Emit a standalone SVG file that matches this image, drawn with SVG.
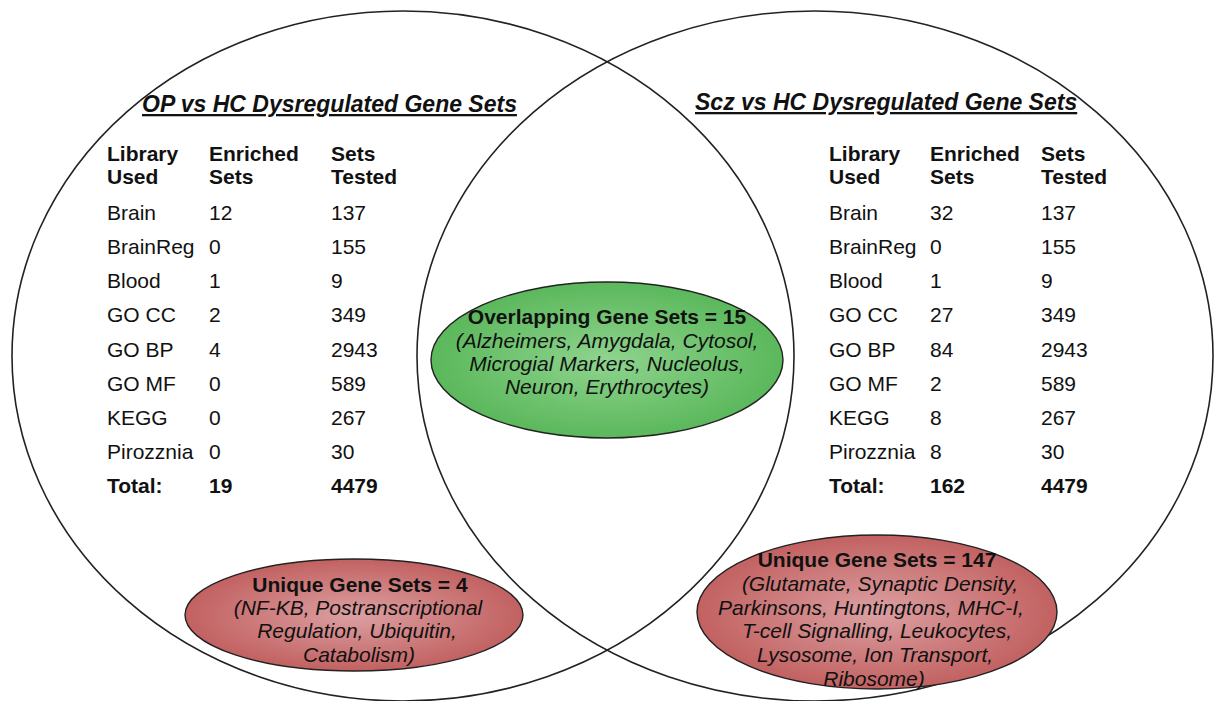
<svg xmlns="http://www.w3.org/2000/svg" width="1214" height="701" viewBox="0 0 1214 701">
<defs>
<radialGradient id="gGreen" cx="50%" cy="50%" r="50%">
<stop offset="0" stop-color="#8fd48f"/>
<stop offset="1" stop-color="#5bb85b"/>
</radialGradient>
<radialGradient id="gRed" cx="50%" cy="50%" r="50%">
<stop offset="0" stop-color="#dca0a2"/>
<stop offset="1" stop-color="#c26161"/>
</radialGradient>
<style>
.circ{fill:none;stroke:#222;stroke-width:1.6}
.bub{stroke:#222;stroke-width:1.4}
text{font-family:"Liberation Sans",Arial,sans-serif;fill:#111;font-size:21px}
.b{font-weight:bold}
.i{font-style:italic}
.ttl{font-weight:bold;font-style:italic;font-size:23px;text-decoration:underline}
.c{text-anchor:middle}
</style>
</defs>
<rect width="1214" height="701" fill="#fff"/>
<g id="circles">
<ellipse id="leftCircle" class="circ" cx="403" cy="356" rx="391" ry="345"/>
<ellipse id="rightCircle" class="circ" cx="815" cy="356" rx="398" ry="345"/>
</g>
<g id="leftTitle"><text class="ttl" x="142" y="112">OP vs HC Dysregulated Gene Sets</text></g>
<g id="rightTitle"><text class="ttl" x="695" y="110">Scz vs HC Dysregulated Gene Sets </text></g>
<g id="leftTable">
<text class="b" x="107" y="161">Library</text><text class="b" x="107" y="184">Used</text>
<text class="b" x="209" y="161">Enriched</text><text class="b" x="209" y="184">Sets</text>
<text class="b" x="331" y="161">Sets</text><text class="b" x="331" y="184">Tested</text>
<text x="107" y="220">Brain</text><text x="209" y="220">12</text><text x="331" y="220">137</text>
<text x="107" y="254">BrainReg</text><text x="209" y="254">0</text><text x="331" y="254">155</text>
<text x="107" y="288">Blood</text><text x="209" y="288">1</text><text x="331" y="288">9</text>
<text x="107" y="322">GO CC</text><text x="209" y="322">2</text><text x="331" y="322">349</text>
<text x="107" y="357">GO BP</text><text x="209" y="357">4</text><text x="331" y="357">2943</text>
<text x="107" y="391">GO MF</text><text x="209" y="391">0</text><text x="331" y="391">589</text>
<text x="107" y="425">KEGG</text><text x="209" y="425">0</text><text x="331" y="425">267</text>
<text x="107" y="459">Pirozznia</text><text x="209" y="459">0</text><text x="331" y="459">30</text>
<text class="b" x="107" y="493">Total:</text><text class="b" x="209" y="493">19</text><text class="b" x="331" y="493">4479</text>
</g>
<g id="rightTable">
<text class="b" x="829" y="161">Library</text><text class="b" x="829" y="184">Used</text>
<text class="b" x="930" y="161">Enriched</text><text class="b" x="930" y="184">Sets</text>
<text class="b" x="1041" y="161">Sets</text><text class="b" x="1041" y="184">Tested</text>
<text x="829" y="220">Brain</text><text x="930" y="220">32</text><text x="1041" y="220">137</text>
<text x="829" y="254">BrainReg</text><text x="930" y="254">0</text><text x="1041" y="254">155</text>
<text x="829" y="288">Blood</text><text x="930" y="288">1</text><text x="1041" y="288">9</text>
<text x="829" y="322">GO CC</text><text x="930" y="322">27</text><text x="1041" y="322">349</text>
<text x="829" y="357">GO BP</text><text x="930" y="357">84</text><text x="1041" y="357">2943</text>
<text x="829" y="391">GO MF</text><text x="930" y="391">2</text><text x="1041" y="391">589</text>
<text x="829" y="425">KEGG</text><text x="930" y="425">8</text><text x="1041" y="425">267</text>
<text x="829" y="459">Pirozznia</text><text x="930" y="459">8</text><text x="1041" y="459">30</text>
<text class="b" x="829" y="493">Total:</text><text class="b" x="930" y="493">162</text><text class="b" x="1041" y="493">4479</text>
</g>
<g id="overlap">
<ellipse class="bub" cx="607" cy="360" rx="176" ry="78" fill="url(#gGreen)"/>
<text class="b c" x="607" y="324">Overlapping Gene Sets = 15</text>
<text class="i c" x="607" y="348">(Alzheimers, Amygdala, Cytosol,</text>
<text class="i c" x="607" y="371">Microgial Markers, Nucleolus,</text>
<text class="i c" x="607" y="394">Neuron, Erythrocytes)</text>
</g>
<g id="uniqueOP">
<ellipse class="bub" cx="354" cy="615" rx="169" ry="56" fill="url(#gRed)"/>
<text class="b c" x="360" y="592">Unique Gene Sets = 4</text>
<text class="i c" x="358" y="615">(NF-KB, Postranscriptional</text>
<text class="i c" x="357" y="638">Regulation, Ubiquitin,</text>
<text class="i c" x="359" y="662">Catabolism)</text>
</g>
<g id="uniqueScz">
<ellipse class="bub" cx="877" cy="612" rx="180" ry="77" fill="url(#gRed)"/>
<text class="b c" x="877" y="567">Unique Gene Sets = 147</text>
<text class="i c" x="880" y="591">(Glutamate, Synaptic Density,</text>
<text class="i c" x="871" y="615">Parkinsons, Huntingtons, MHC-I,</text>
<text class="i c" x="877" y="638">T-cell Signalling, Leukocytes,</text>
<text class="i c" x="875" y="662">Lysosome, Ion Transport,</text>
<text class="i c" x="874" y="686">Ribosome)</text>
</g>
</svg>
